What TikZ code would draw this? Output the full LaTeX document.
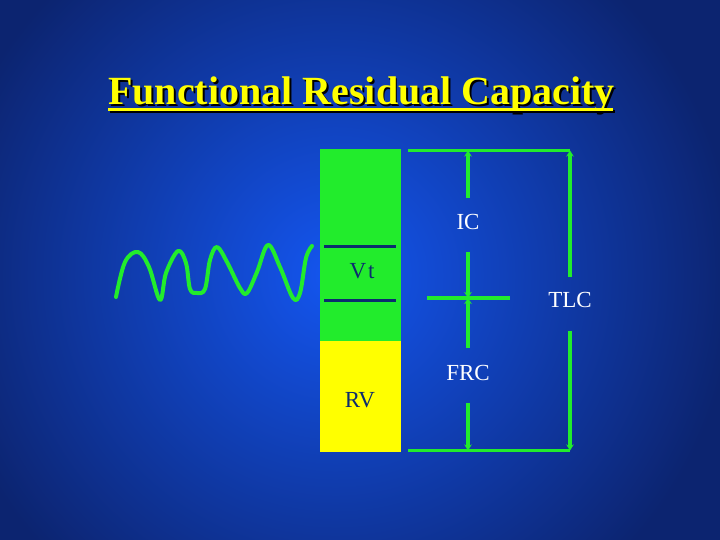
\documentclass[tikz,border=0pt]{standalone}
\usepackage{fontspec}
\setmainfont{Liberation Serif}
\usetikzlibrary{arrows.meta}
\definecolor{navy}{RGB}{12,36,112}
\definecolor{bright}{RGB}{20,86,240}
\definecolor{lgreen}{RGB}{34,236,44}
\definecolor{lyellow}{RGB}{255,255,0}
\definecolor{darkline}{RGB}{12,44,110}
\newcommand{\shadowtext}[1]{\makebox[0pt][l]{\hspace{2pt}\raisebox{-2pt}{\color{black}#1}}\color{lyellow}#1}
\tikzset{
  gline/.style={draw=lgreen, line width=3.5pt},
  arr/.style={gline, -{Stealth[length=6pt,width=7.5pt]}},
  lbl/.style={text=white, font=\fontsize{23}{25}\selectfont, inner sep=0pt},
  barlbl/.style={text=darkline, font=\fontsize{23}{25}\selectfont, inner sep=0pt},
  barpart/.style={inner sep=0pt, anchor=north west, minimum width=80.5pt},
  titlefont/.style={font=\fontsize{40}{44}\selectfont\bfseries, inner sep=0pt, anchor=base west}
}
\begin{document}
\begin{tikzpicture}[x=1pt,y=-1pt]
\useasboundingbox (0,0) rectangle (720,540);
\fill[navy] (0,0) rectangle (720,540);
\begin{scope}
  \clip (0,0) rectangle (720,540);
  \shade[inner color=bright, outer color=navy] (335,275) circle (400);
\end{scope}
% title
\node[titlefont] (title) at (108,105) {\shadowtext{Functional Residual Capacity}};
\draw[black, line width=3pt] (110,111.5) -- (615,111.5);
\draw[lyellow, line width=3pt] (108,109.5) -- (613,109.5);
% bar
\node[barpart, fill=lgreen, minimum height=192pt] (greenbar) at (320,149) {};
\node[barpart, fill=lyellow, minimum height=111pt] (yellowbar) at (320,341) {};
\draw[darkline, line width=3pt] (324,246) -- (396,246);
\draw[darkline, line width=3pt] (324,300) -- (396,300);
\node[barlbl] (vt) at (362,271) {V\kern2pt t};
\node[barlbl] (rv) at (360,400) {RV};
% wave
\draw[gline, line width=4pt, line cap=round, line join=round] plot[smooth, tension=0.6] coordinates {
(116,297) (125,262) (138,252) (149,267) (160,300) (166,273) (178,251) (186,263) (190,289) (197,293) (205,289)
(210,260) (217,247) (227,262) (240,288) (247,293) (257,272) (268,245) (280,267) (293,298) (300,293) (306,258) (312,246)};
% bracket
\coordinate (tl) at (408,150.5);
\coordinate (tr) at (570,150.5);
\coordinate (bl) at (408,450.5);
\coordinate (br) at (570,450.5);
\draw[gline] (tl) -- (tr);
\draw[gline] (bl) -- (br);
\node[lbl] (tlc) at (570,300) {TLC};
\node[lbl] (ic) at (468,222) {IC};
\node[lbl] (frc) at (468,373) {FRC};
\coordinate (tlcA) at (570,277);
\coordinate (tlcB) at (570,331);
\draw[arr] (tlcA) -- (tr);
\draw[arr] (tlcB) -- (br);
\coordinate (icT) at (468,150.5);
\coordinate (icA) at (468,198);
\coordinate (icB) at (468,252);
\coordinate (mid) at (468,298);
\coordinate (frcA) at (468,348);
\coordinate (frcB) at (468,403);
\coordinate (frcBot) at (468,450.5);
\draw[arr] (icA) -- (icT);
\draw[arr] (icB) -- (mid);
\draw[arr] (frcA) -- (mid);
\draw[arr] (frcB) -- (frcBot);
\coordinate (hl) at (427,298);
\coordinate (hr) at (510,298);
\draw[gline] (hl) -- (hr);
\end{tikzpicture}
\end{document}
